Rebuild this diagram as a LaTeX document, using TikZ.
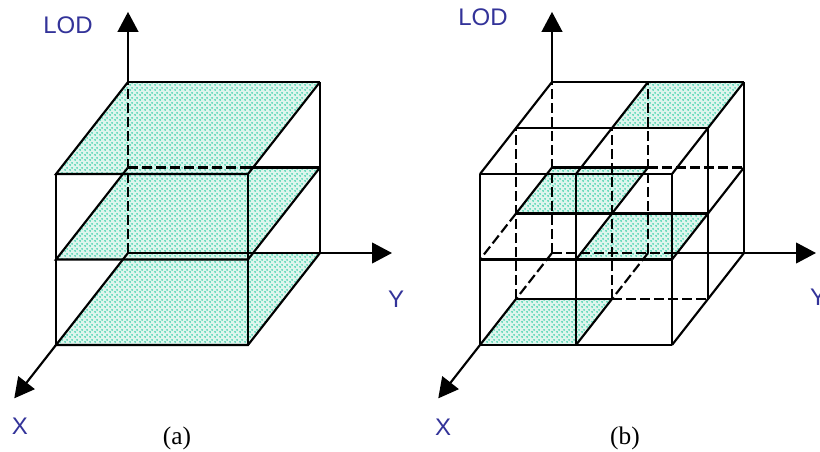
\documentclass[tikz,border=0pt]{standalone}
\usepackage{fontspec}
\setmainfont{Liberation Serif}
\newfontfamily\axisfont{Liberation Sans}
\definecolor{AxisBlue}{RGB}{51,51,153}
\definecolor{DotGreen}{RGB}{0,195,145}
\definecolor{DotMint}{RGB}{222,245,237}
\usetikzlibrary{
    arrows.meta,
    calc,
    patterns,
}
\pgfdeclarepatternformonly{lod dots}{\pgfpointorigin}{\pgfqpoint{3.4pt}{3.4pt}}{\pgfqpoint{3.4pt}{3.4pt}}{
    \pgfpathcircle{\pgfqpoint{0.85pt}{0.85pt}}{0.65pt}
    \pgfpathcircle{\pgfqpoint{2.55pt}{2.55pt}}{0.65pt}
    \pgfusepath{fill}
}
\tikzset{
    edge/.style={line width=1.6pt},
    hidden/.style={line width=1.6pt, dash pattern=on 7.5pt off 3pt},
    plane/.style={preaction={fill=DotMint}, pattern=lod dots, pattern color=DotGreen},
    axis/.style={line width=1.6pt, -{Triangle[length=15pt, width=15.5pt]}},
    axislabel/.style={font=\axisfont\fontsize{18}{21}\selectfont, text=AxisBlue, inner sep=0pt},
    caption/.style={font=\fontsize{19}{22}\selectfont, inner sep=0pt},
}

\begin{document}
\begin{tikzpicture}[x=0.75pt, y=-0.75pt]
    \useasboundingbox[fill=white] (0,0) rectangle (820,452);

    % grid corners of both cubes: depth i, width j, level k
    \foreach \pn/\ox in {a/128, b/552}{
        \foreach \i in {0,1,2}{
            \foreach \j in {0,1,2}{
                \foreach \k in {0,1,2}{
                    \coordinate (\pn-\i-\j-\k) at ($(\ox,253) + \i*(-36,46) + \j*(96,0) + \k*(0,-85.5)$);
                }
            }
        }
        \coordinate (\pn-lod) at ($(\pn-0-0-0)!1.41!(\pn-0-0-2)$);
        \coordinate (\pn-y) at ($(\pn-0-0-0)!1.375!(\pn-0-2-0)$);
        \coordinate (\pn-x) at ($(\pn-0-0-0)!1.58!(\pn-2-0-0)$);
    }

    % (a) three LOD levels
    \foreach \k in {0,1,2}
        \path[plane] (a-0-0-\k) -- (a-0-2-\k) -- (a-2-2-\k) -- (a-2-0-\k) -- cycle;
    \draw[hidden] (a-0-0-0) -- (a-0-0-2);
    \draw[hidden] (a-0-0-1) -- (a-2-2-1 |- a-0-0-1);
    \draw[edge] (a-2-2-1 |- a-0-0-1) -- (a-0-2-1);
    \foreach \k in {0,1,2}
        \draw[edge] (a-0-0-\k) -- (a-2-0-\k) -- (a-2-2-\k) -- (a-0-2-\k);
    \foreach \p/\q in {0-0-2/0-2-2, 0-0-0/0-2-0, 0-2-0/0-2-2, 2-0-0/2-0-2, 2-2-0/2-2-2}
        \draw[edge] (a-\p) -- (a-\q);
    \draw[axis] (a-0-0-2) -- (a-lod);
    \draw[axis] (a-0-2-0) -- (a-y);
    \draw[axis] (a-2-0-0) -- (a-x);
    \node[axislabel] (a-lod-label) at (68,25) {LOD};
    \node[axislabel] (a-y-label) at (396,299) {Y};
    \node[axislabel] (a-x-label) at (20,426) {X};
    \node[caption] (a-caption) at (177,438) {(a)};

    % (b) octree cells
    \foreach \c in {0-1-2, 0-0-1, 1-1-1, 1-0-0}{
        \path[plane] (b-\c) -- ++(96,0) -- ++(-36,46) -- ++(-96,0) -- cycle;
    }
    \draw[hidden] (b-0-0-0) -- (b-2-2-0 |- b-0-0-0);
    \foreach \p/\q in {0-1-1/0-2-1, 1-1-0/1-2-0, 1-0-1/2-0-1, 0-0-0/1-0-0, 0-1-0/1-1-0,
                       0-0-0/0-0-2, 0-1-0/0-1-2, 1-0-0/1-0-2, 1-1-0/1-1-2}
        \draw[hidden] (b-\p) -- (b-\q);
    \draw[edge] (b-2-2-0 |- b-0-0-0) -- (b-0-2-0);
    \foreach \p/\q in {0-0-2/0-2-2, 1-0-2/1-2-2, 2-0-2/2-2-2, 0-0-1/0-1-1, 1-0-1/1-2-1,
                       2-0-1/2-2-1, 1-0-0/1-1-0, 2-0-0/2-2-0,
                       0-0-2/2-0-2, 0-1-2/2-1-2, 0-2-2/2-2-2, 0-0-1/1-0-1, 0-1-1/2-1-1,
                       0-2-1/2-2-1, 1-0-0/2-0-0, 1-1-0/2-1-0, 0-2-0/2-2-0,
                       0-2-0/0-2-2, 1-2-0/1-2-2, 2-0-0/2-0-2, 2-1-0/2-1-2, 2-2-0/2-2-2}
        \draw[edge] (b-\p) -- (b-\q);
    \draw[axis] (b-0-0-2) -- (b-lod);
    \draw[axis] (b-0-2-0) -- (b-y);
    \draw[axis] (b-2-0-0) -- (b-x);
    \node[axislabel] (b-lod-label) at (483,17) {LOD};
    \node[axislabel] (b-y-label) at (818,297) {Y};
    \node[axislabel] (b-x-label) at (443,427) {X};
    \node[caption] (b-caption) at (625,438) {(b)};
\end{tikzpicture}
\end{document}
